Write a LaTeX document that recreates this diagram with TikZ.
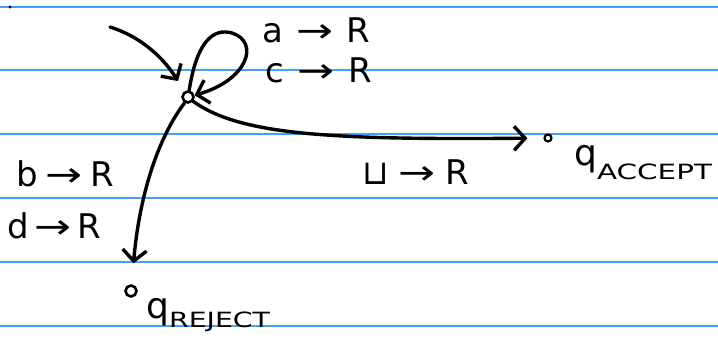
\documentclass[tikz,border=0pt]{standalone}
\usepackage{fontspec}
\usepackage{graphicx}
\setmainfont{DejaVu Sans}
\usetikzlibrary{arrows.meta}
\definecolor{ruled}{RGB}{70,160,245}
\newcommand{\mytr}[3][15pt]{#2\hspace{#1}\scalebox{1.3}[1]{→}\hspace{#1}#3}
\newcommand{\mysub}{\fontsize{21}{21}\selectfont}
\begin{document}
\begin{tikzpicture}[x=1pt,y=-1pt,
  pen/.style={line width=3.4pt, line cap=round, line join=round},
  arr/.style={pen, -{Straight Barb[length=11pt,width=24pt,line width=3.4pt]}},
  state/.style={circle, draw, line width=2.6pt, inner sep=0pt, minimum size=11pt},
  smallstate/.style={circle, draw, line width=2.2pt, inner sep=0pt, minimum size=7pt},
  lab/.style={font=\fontsize{34}{34}\selectfont, inner sep=0pt, anchor=base west},
  qlab/.style={font=\fontsize{36}{36}\selectfont, inner sep=0pt, anchor=base west}
]
\useasboundingbox (0,0) rectangle (718,340);
\fill[white] (0,0) rectangle (718,340);
\foreach \yy in {7,70,134,198,262,326}
  \draw[ruled, line width=1.5pt] (0,\yy) -- (718,\yy);
\fill (10,7) circle (1.6pt);

% states
\node[state] (q0) at (188,97) {};
\node[smallstate] (qa) at (548,138) {};
\node[state] (qr) at (131,291) {};
\coordinate (s) at (110,27);

% initial arrow
\draw[arr, shorten >=12pt] (s) .. controls (145,38) and (166,62) .. (q0);

% self loop
\draw[arr] (q0.80) .. controls (197,40) and (214,28) .. (232,33)
  .. controls (260,42) and (248,80) .. (q0.15);

% to accept
\draw[arr, shorten >=16pt] (q0.-40) .. controls (240,135) and (330,140) .. (qa);

% to reject
\draw[arr, shorten >=21pt] (q0.-120) .. controls (160,135) and (140,190) .. (qr);

% labels
\node[lab] (l1) at (262,42) {\mytr[13pt]{a}{R}};
\node[lab] (l2) at (265,82) {\mytr[14pt]{c}{R}};
\node[lab] (l3) at (362,184) {\mytr[10pt]{⊔}{R}};
\node[lab] (l4) at (16,186) {\mytr[8pt]{b}{R}};
\node[lab] (l5) at (7,238) {\mytr[6pt]{d}{R}};

\node[qlab] (la) at (574,165) {q\raisebox{-14pt}{\mysub\scalebox{1.4}[1]{ACCEPT}}};
\node[qlab] (lr) at (146,318) {q\raisebox{-9pt}{\mysub\scalebox{1.35}[1]{REJECT}}};
\end{tikzpicture}
\end{document}
